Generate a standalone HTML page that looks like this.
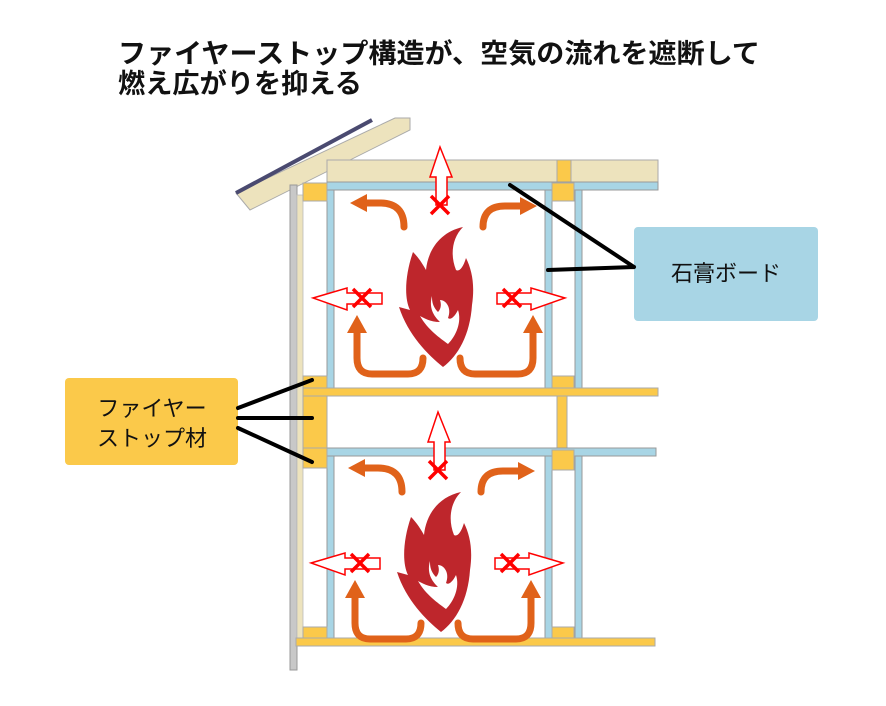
<!DOCTYPE html>
<html><head><meta charset="utf-8"><style>
html,body{margin:0;padding:0;background:#fff;}
svg{display:block;}
text{font-family:"Liberation Sans","Noto Sans CJK JP",sans-serif;}
</style></head><body>
<svg width="886" height="706" viewBox="0 0 886 706" xmlns="http://www.w3.org/2000/svg">
<defs>
<g id="room">
  <path d="M440,147 L452,177 L447,177 L447,205 L436,205 L436,177 L430,177 Z" fill="#fff" stroke="#f00" stroke-width="1.5"/>
  <path d="M431,196 L449,214 M449,196 L431,214" stroke="#f00" stroke-width="3.5"/>
  <path d="M313,298 L347,288 L347,293 L382,293 L382,304 L347,304 L347,310 Z" fill="#fff" stroke="#f00" stroke-width="1.5"/>
  <path d="M353,289 L371,307 M371,289 L353,307" stroke="#f00" stroke-width="3.5"/>
  <path d="M565,298 L531,288 L531,293 L497,293 L497,304 L531,304 L531,310 Z" fill="#fff" stroke="#f00" stroke-width="1.5"/>
  <path d="M503,289 L521,307 M521,289 L503,307" stroke="#f00" stroke-width="3.5"/>
  <g fill="none" stroke="#e0621a" stroke-width="7" stroke-linecap="round">
    <path d="M404,227 Q404,203 380,203 L366,203"/>
    <path d="M483,227 Q483,206 505,206 L522,206"/>
    <path d="M423,358 Q423,374 408,374 L372,374 Q357,374 357,358 L357,330"/>
    <path d="M460,358 Q460,374 475,374 L518,374 Q533,374 533,358 L533,330"/>
  </g>
  <g fill="#e0621a">
    <path d="M350,203 L367,194 L367,212 Z"/>
    <path d="M537,206 L520,197 L520,215 Z"/>
    <path d="M357,315 L347,333 L367,333 Z"/>
    <path d="M533,315 L523,333 L543,333 Z"/>
  </g>
  <path d="M463,227 C440,232 428,250 426,270 C421,261 417,256 413,252 C405,275 404,298 410,310 L399,307 C408,335 428,355 443,367 C458,356 470,335 472,305 C475,285 472,270 466,258 C463,268 459,272 456,270 C450,255 452,238 463,227 Z" fill="#be262c"/>
  <path d="M432,296 C428,310 436,318 440,322 C430,322 424,318 420,316 C428,330 440,338 448,344 C456,336 462,322 458,310 C454,318 450,320 448,318 C452,308 446,300 440,300 C442,306 440,310 438,312 C432,306 432,300 432,296 Z" fill="#fff"/>
</g>
</defs>

<text x="118" y="63" font-size="27" font-weight="bold" fill="#111" textLength="642" lengthAdjust="spacingAndGlyphs">ファイヤーストップ構造が、空気の流れを遮断して</text>
<text x="118" y="93" font-size="27" font-weight="bold" fill="#111" textLength="244" lengthAdjust="spacingAndGlyphs">燃え広がりを抑える</text>

<path d="M236,193 L395,118 L410,118 L410,130 L250,210 Z" fill="#ede3bd" stroke="#aaa" stroke-width="1"/>
<path d="M236,193 L372,120" stroke="#4a4a70" stroke-width="4"/>

<rect x="327" y="160" width="331" height="22" fill="#ede3bd" stroke="#aaa" stroke-width="1"/>
<rect x="557" y="160" width="14" height="22" fill="#fbc94a" stroke="#aaa" stroke-width="1"/>

<rect x="290" y="185" width="7" height="485" fill="#c8c8c8" stroke="#999" stroke-width="1"/>
<rect x="297" y="195" width="6" height="445" fill="#ede3bd" stroke="#bbb" stroke-width="0.8"/>

<rect x="327" y="182" width="331" height="8" fill="#a8d5e5" stroke="#999" stroke-width="1"/>
<rect x="327" y="190" width="7" height="198" fill="#a8d5e5" stroke="#999" stroke-width="1"/>
<rect x="545" y="190" width="7" height="198" fill="#a8d5e5" stroke="#999" stroke-width="1"/>
<rect x="575" y="190" width="7" height="198" fill="#a8d5e5" stroke="#999" stroke-width="1"/>

<rect x="303" y="183" width="24" height="18" fill="#fbc94a" stroke="#aaa" stroke-width="1"/>
<rect x="552" y="183" width="22" height="18" fill="#fbc94a" stroke="#aaa" stroke-width="1"/>
<rect x="303" y="376" width="24" height="12" fill="#fbc94a" stroke="#aaa" stroke-width="1"/>
<rect x="552" y="376" width="22" height="12" fill="#fbc94a" stroke="#aaa" stroke-width="1"/>

<rect x="303" y="388" width="355" height="8" fill="#fbc94a" stroke="#aaa" stroke-width="1"/>
<rect x="303" y="396" width="24" height="52" fill="#fbc94a" stroke="#aaa" stroke-width="1"/>
<rect x="557" y="396" width="10" height="54" fill="#fbc94a" stroke="#aaa" stroke-width="1"/>

<rect x="327" y="448" width="329" height="8" fill="#a8d5e5" stroke="#999" stroke-width="1"/>
<rect x="327" y="456" width="7" height="182" fill="#a8d5e5" stroke="#999" stroke-width="1"/>
<rect x="545" y="456" width="7" height="182" fill="#a8d5e5" stroke="#999" stroke-width="1"/>
<rect x="575" y="456" width="7" height="182" fill="#a8d5e5" stroke="#999" stroke-width="1"/>
<rect x="303" y="448" width="24" height="20" fill="#fbc94a" stroke="#aaa" stroke-width="1"/>
<rect x="552" y="450" width="22" height="20" fill="#fbc94a" stroke="#aaa" stroke-width="1"/>
<rect x="303" y="627" width="24" height="11" fill="#fbc94a" stroke="#aaa" stroke-width="1"/>
<rect x="552" y="627" width="22" height="11" fill="#fbc94a" stroke="#aaa" stroke-width="1"/>
<rect x="296" y="638" width="359" height="8" fill="#fbc94a" stroke="#aaa" stroke-width="1"/>

<use href="#room"/>
<use href="#room" transform="translate(-2,265)"/>

<rect x="634" y="227" width="184" height="94" rx="4" fill="#a8d5e5"/>
<text x="726" y="281" font-size="22" text-anchor="middle" fill="#111">石膏ボード</text>
<path d="M634,267 L510,185 M634,267 L548,270" stroke="#000" stroke-width="4" stroke-linecap="round"/>

<rect x="65" y="378" width="173" height="87" rx="4" fill="#fbc94a"/>
<text x="152" y="416" font-size="22" text-anchor="middle" fill="#111">ファイヤー</text>
<text x="152" y="446" font-size="22" text-anchor="middle" fill="#111">ストップ材</text>
<path d="M238,408 L312,380 M238,418 L312,418 M238,428 L312,462" stroke="#000" stroke-width="4" stroke-linecap="round"/>
</svg>
</body></html>
